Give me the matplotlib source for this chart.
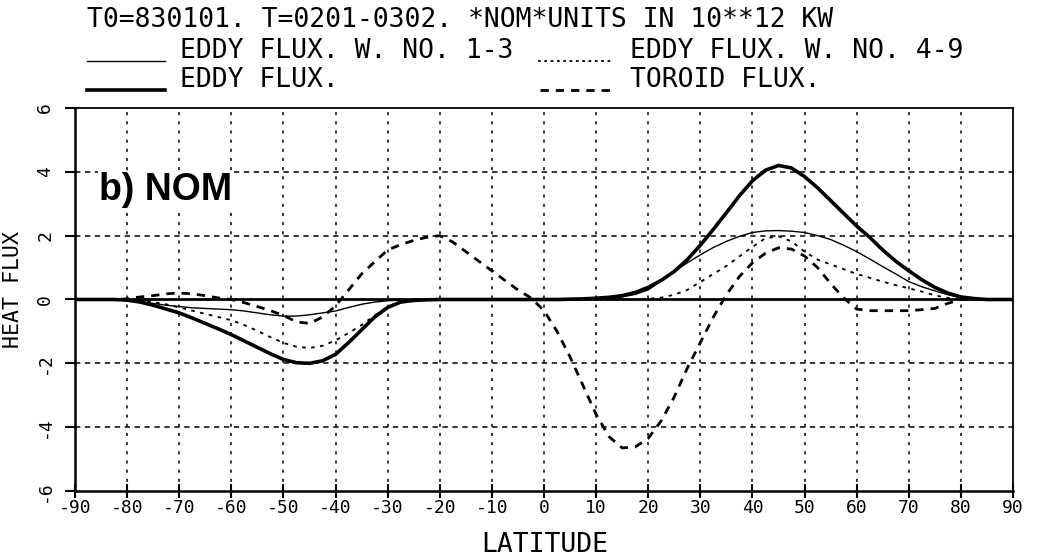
import matplotlib
matplotlib.use("Agg")
import matplotlib.pyplot as plt
from matplotlib.lines import Line2D
import numpy as np

# ---------------- data ----------------
# latitude grid every 2.5 degrees, rows of 8 values (20 degrees each)
lat = np.arange(-90, 90.01, 2.5)

eddy_total = [0, 0, 0, 0, -0.02, -0.08, -0.18, -0.3,             # -90 .. -72.5
              -0.42, -0.58, -0.75, -0.92, -1.1, -1.3, -1.5, -1.7,  # -70 .. -52.5
              -1.88, -1.98, -2.0, -1.92, -1.72, -1.35, -0.95, -0.55,  # -50 .. -32.5
              -0.25, -0.08, -0.03, -0.01, 0, 0, 0, 0,              # -30 .. -12.5
              0, 0, 0, 0, 0, 0, 0.01, 0.02,                        # -10 .. 7.5
              0.04, 0.07, 0.12, 0.22, 0.38, 0.6, 0.88, 1.25,       # 10 .. 27.5
              1.7, 2.2, 2.72, 3.25, 3.72, 4.05, 4.2, 4.12,         # 30 .. 47.5
              3.85, 3.5, 3.1, 2.7, 2.3, 1.95, 1.55, 1.2,           # 50 .. 67.5
              0.9, 0.62, 0.38, 0.2, 0.08, 0.03, 0, 0,              # 70 .. 87.5
              0]                                                   # 90

eddy_13 = [0, 0, 0, 0, -0.02, -0.06, -0.12, -0.18,
           -0.22, -0.26, -0.28, -0.3, -0.32, -0.36, -0.42, -0.48,
           -0.52, -0.52, -0.48, -0.42, -0.36, -0.25, -0.15, -0.08,
           -0.04, -0.02, 0, 0, 0, 0, 0, 0,
           0, 0, 0, 0, 0, 0, 0, 0,
           0.01, 0.03, 0.08, 0.16, 0.3, 0.58, 0.88, 1.15,
           1.4, 1.63, 1.82, 1.98, 2.1, 2.15, 2.16, 2.14,
           2.1, 2.0, 1.88, 1.7, 1.5, 1.27, 1.03, 0.8,
           0.56, 0.4, 0.27, 0.15, 0.06, 0.02, 0, 0,
           0]

eddy_49 = [0, 0, 0, 0, 0, -0.03, -0.08, -0.15,
           -0.25, -0.35, -0.45, -0.55, -0.65, -0.8, -0.98, -1.18,
           -1.36, -1.48, -1.52, -1.45, -1.28, -1.05, -0.8, -0.5,
           -0.22, -0.06, 0, 0, 0, 0, 0, 0,
           0, 0, 0, 0, 0, 0, 0, 0,
           0, 0, 0, 0, 0.02, 0.06, 0.15, 0.3,
           0.55, 0.8, 1.05, 1.35, 1.65, 1.92, 1.98, 1.82,
           1.5, 1.25, 1.1, 0.95, 0.8, 0.68, 0.56, 0.45,
           0.35, 0.25, 0.13, 0.05, 0, 0, 0, 0,
           0]

toroid = [0, 0, 0, 0, 0.02, 0.08, 0.12, 0.18,
          0.2, 0.18, 0.12, 0.05, 0, -0.1, -0.22, -0.35,
          -0.5, -0.7, -0.75, -0.55, -0.2, 0.3, 0.8, 1.18,
          1.55, 1.72, 1.85, 1.95, 2.0, 1.8, 1.5, 1.2,
          0.9, 0.6, 0.3, 0.05, -0.35, -1.0, -1.8, -2.7,
          -3.6, -4.3, -4.65, -4.62, -4.35, -3.8, -3.05, -2.15,
          -1.35, -0.55, 0.15, 0.72, 1.15, 1.45, 1.62, 1.58,
          1.36, 1.0, 0.5, 0.05, -0.3, -0.35, -0.35, -0.35,
          -0.35, -0.32, -0.28, -0.12, 0, 0, 0, 0,
          0]

xticks = list(range(-90, 91, 10))
yticks = [-6, -4, -2, 0, 2, 4, 6]
title_line = "T0=830101. T=0201-0302. *NOM*UNITS IN 10**12 KW"
leg_13 = "EDDY FLUX. W. NO. 1-3"
leg_49 = "EDDY FLUX. W. NO. 4-9"
leg_tot = "EDDY FLUX."
leg_tor = "TOROID FLUX."
panel_label = "b) NOM"

# ---------------- figure ----------------
W, H = 1037, 559
fig = plt.figure(figsize=(W / 100, H / 100), dpi=100)
mono = "DejaVu Sans Mono"

def fx(px):
    return px / W

def fy(py):
    return 1 - py / H

ax = fig.add_axes([fx(75), fy(491), fx(1013) - fx(75), fy(108) - fy(491)])
ax.set_xlim(-90, 90)
ax.set_ylim(-6, 6)

# grid
for g in range(-80, 81, 10):
    ax.axvline(g, color="black", lw=1.1, ls=(0, (2, 4)), zorder=1)
for g in [-4, -2, 2, 4]:
    ax.axhline(g, color="black", lw=1.1, ls=(0, (3.5, 3)), zorder=1)
ax.axhline(0, color="black", lw=2.0, zorder=2)

# curves
ax.plot(lat, eddy_13, color="black", lw=1.0, zorder=3)
ax.plot(lat, eddy_49, color="black", lw=1.3, ls=(0, (2, 3)), zorder=3)
ax.plot(lat, eddy_total, color="black", lw=2.6, zorder=4)
ax.plot(lat, toroid, color="black", lw=2.0, ls=(0, (3, 2.5)), zorder=4)

# axes styling
for s in ["left", "bottom"]:
    ax.spines[s].set_linewidth(1.8)
for s in ["top", "right"]:
    ax.spines[s].set_linewidth(1.3)
ax.set_xticks(xticks)
ax.set_xticklabels([str(v) for v in xticks], fontfamily=mono, fontsize=13)
ax.set_yticks(yticks)
ax.set_yticklabels([str(v) for v in yticks], fontfamily=mono, fontsize=13,
                   rotation=90, va="center")
ax.tick_params(axis="x", direction="inout", length=10, width=1.5, pad=1)
ax.tick_params(axis="y", direction="out", length=7, width=1.5, pad=8)

# panel label
ax.text(0.026, 0.785, panel_label, transform=ax.transAxes, fontsize=27,
        fontweight="bold", family="Liberation Sans", va="center", ha="left",
        zorder=6, bbox=dict(facecolor="white", edgecolor="none", pad=1))

# axis labels
fig.text(fx(545), fy(545), "LATITUDE", family=mono, fontsize=19,
         ha="center", va="center")
fig.text(fx(13), fy(290), "HEAT FLUX", family=mono, fontsize=15.5,
         ha="center", va="center", rotation=90)

# header / legend
fs = 19
fig.text(fx(87), fy(20), title_line, family=mono, fontsize=fs, ha="left", va="center")
fig.text(fx(180), fy(51), leg_13, family=mono, fontsize=fs, ha="left", va="center")
fig.text(fx(630), fy(51), leg_49, family=mono, fontsize=fs, ha="left", va="center")
fig.text(fx(180), fy(80), leg_tot, family=mono, fontsize=fs, ha="left", va="center")
fig.text(fx(630), fy(80), leg_tor, family=mono, fontsize=fs, ha="left", va="center")

fig.add_artist(Line2D([fx(87), fx(165)], [fy(61), fy(61)], color="black", lw=1.0))
fig.add_artist(Line2D([fx(538), fx(612)], [fy(61), fy(61)], color="black", lw=1.3,
                      ls=(0, (1.5, 2))))
fig.add_artist(Line2D([fx(87), fx(165)], [fy(90), fy(90)], color="black", lw=2.6))
fig.add_artist(Line2D([fx(540), fx(612)], [fy(90), fy(90)], color="black", lw=2.0,
                      ls=(0, (3, 2.5))))

fig.savefig("out.png", dpi=100)
